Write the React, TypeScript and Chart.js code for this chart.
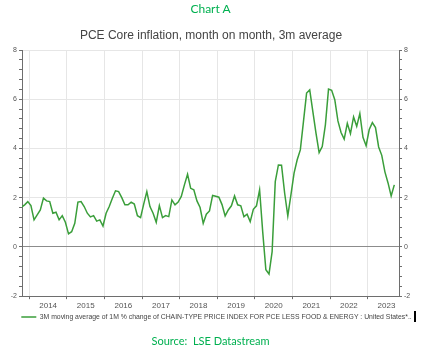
import { useEffect, useRef } from 'react';
import { Chart, registerables } from 'chart.js';

Chart.register(...registerables);

// First observation: October 2013 (monthly series)
const FIRST_YEAR = 2013;
const FIRST_MONTH = 10;

// 3M moving average of 1M % change, core PCE (monthly, Oct 2013 .. Sep 2023)
const values: number[] = [
  1.62, 1.71, 1.84,
  1.68, 1.10, 1.30, 1.50, 1.98, 1.87, 1.84, 1.37, 1.41, 1.10, 1.27, 1.00,
  0.53, 0.62, 0.96, 1.82, 1.84, 1.64, 1.37, 1.22, 1.27, 1.05, 1.10, 0.85,
  1.37, 1.64, 1.98, 2.28, 2.25, 2.00, 1.71, 1.71, 1.82, 1.74, 1.27, 1.19,
  1.74, 2.25, 1.64, 1.37, 1.00, 1.68, 1.19, 1.27, 1.23, 1.91, 1.71, 1.82,
  2.05, 2.52, 2.95, 2.38, 2.32, 1.87, 1.60, 0.96, 1.33, 1.46, 2.09, 2.06,
  2.02, 1.72, 1.26, 1.50, 1.67, 2.07, 1.71, 1.67, 1.23, 1.33, 1.03, 1.53,
  1.67, 2.32, 0.60, -0.93, -1.10, -0.19, 2.65, 3.33, 3.32, 2.18, 1.26, 2.11,
  3.00, 3.54, 3.94, 5.09, 6.25, 6.38, 5.50, 4.62, 3.83, 4.08, 4.96, 6.41,
  6.36, 5.98, 5.12, 4.65, 4.38, 5.02, 4.60, 5.28, 4.90, 5.42, 4.45, 4.11,
  4.77, 5.05, 4.85, 4.06, 3.72, 3.05, 2.60, 2.07, 2.52,
];

const yearLabels = ['2014', '2015', '2016', '2017', '2018', '2019', '2020', '2021', '2022', '2023'];

const seriesLabel =
  '3M moving average of 1M % change of CHAIN-TYPE PRICE INDEX FOR PCE LESS FOOD & ENERGY : United States*..';
const chartTitle = 'PCE Core inflation, month on month, 3m average';
const headerText = 'Chart A';
const sourceText = 'Source:  LSE Datastream';

const FONT = "'Liberation Sans', Arial, sans-serif";
const LINE_GREEN = '#3a9e3a';
const TEXT_GREEN = '#00b050';
const AXIS = '#6e6e6e';
const GRID = '#e6e6e6';

export default function App() {
  const ref = useRef<HTMLCanvasElement>(null);

  useEffect(() => {
    if (!ref.current) return;
    // x in months since Jan 2014, points at mid-month
    const offset = (FIRST_YEAR - 2014) * 12 + (FIRST_MONTH - 1);
    const points = values.map((v, i) => ({ x: offset + i + 0.5, y: v }));

    const yTicks = {
      stepSize: 0.4,
      autoSkip: false,
      font: { size: 7, family: FONT },
      color: '#555',
      padding: 2,
      callback: (v: any) => {
        const n = Math.round(Number(v) * 10) / 10;
        return Math.abs(n % 2) < 1e-9 ? String(n) : '';
      },
    };

    const chart = new Chart(ref.current, {
      type: 'line',
      data: {
        datasets: [
          {
            label: seriesLabel,
            data: points,
            borderColor: LINE_GREEN,
            backgroundColor: LINE_GREEN,
            borderWidth: 1.5,
            pointRadius: 0,
            tension: 0,
            yAxisID: 'y',
          },
        ],
      },
      options: {
        responsive: false,
        animation: false,
        devicePixelRatio: 1,
        layout: { padding: { top: 50, left: 0, right: 0, bottom: 21.5 } },
        plugins: {
          title: { display: false },
          tooltip: { enabled: false },
          legend: {
            display: true,
            position: 'bottom',
            labels: {
              usePointStyle: true,
              pointStyle: 'line',
              pointStyleWidth: 15,
              font: { size: 6.85, family: FONT },
              color: '#444',
              padding: 4,
            },
          },
        },
        scales: {
          x: {
            type: 'linear',
            min: -2.35,
            max: 118,
            afterFit: (s: any) => {
              s.height = 13.5;
            },
            grid: { color: GRID, tickColor: AXIS, tickLength: 3, lineWidth: 1 },
            border: { display: true, color: AXIS },
            ticks: {
              stepSize: 12,
              includeBounds: false,
              autoSkip: false,
              maxRotation: 0,
              labelOffset: 18.8,
              padding: 2,
              font: { size: 8, family: FONT },
              color: '#555',
              callback: (v: any) => yearLabels[Math.round(Number(v) / 12)] ?? '',
            },
          },
          y: {
            type: 'linear',
            position: 'left',
            min: -2,
            max: 8,
            afterFit: (s: any) => {
              s.width = 22;
            },
            grid: {
              color: (c: any) => {
                const n = Math.round(c.tick.value * 10) / 10;
                if (n === 0) return '#8c8c8c';
                if (Math.abs(n % 2) < 1e-9) return GRID;
                return 'rgba(0,0,0,0)';
              },
              tickColor: AXIS,
              tickLength: 3,
            },
            border: { display: true, color: AXIS },
            ticks: yTicks as any,
          },
          y2: {
            type: 'linear',
            position: 'right',
            min: -2,
            max: 8,
            afterFit: (s: any) => {
              s.width = 34;
            },
            grid: { drawOnChartArea: false, tickColor: AXIS, tickLength: 3 },
            border: { display: true, color: AXIS },
            ticks: yTicks as any,
          },
        },
      },
    });
    return () => chart.destroy();
  }, []);

  return (
    <div style={{ position: 'absolute', left: 0, top: 0, width: 433, height: 352, background: '#fff' }}>
      <canvas
        ref={ref}
        width={433}
        height={352}
        style={{ position: 'absolute', left: 0, top: 0, width: 433, height: 352 }}
      />
      <div
        style={{
          position: 'absolute', left: 0, top: 2, width: 421, textAlign: 'center',
          fontFamily: 'Lato, sans-serif', fontSize: 12, lineHeight: '14px', color: TEXT_GREEN,
        }}
      >
        {headerText}
      </div>
      <div
        style={{
          position: 'absolute', left: 0, top: 28, width: 422, textAlign: 'center',
          fontFamily: FONT, fontSize: 12, lineHeight: '14px', color: '#444',
        }}
      >
        {chartTitle}
      </div>
      <div
        style={{
          position: 'absolute', left: 0, top: 334, width: 421, textAlign: 'center', whiteSpace: 'pre',
          fontFamily: 'Lato, sans-serif', fontSize: 11, lineHeight: '14px', color: TEXT_GREEN,
        }}
      >
        {sourceText}
      </div>
      <div style={{ position: 'absolute', left: 414, top: 311, width: 1.5, height: 11, background: '#000' }} />
    </div>
  );
}
